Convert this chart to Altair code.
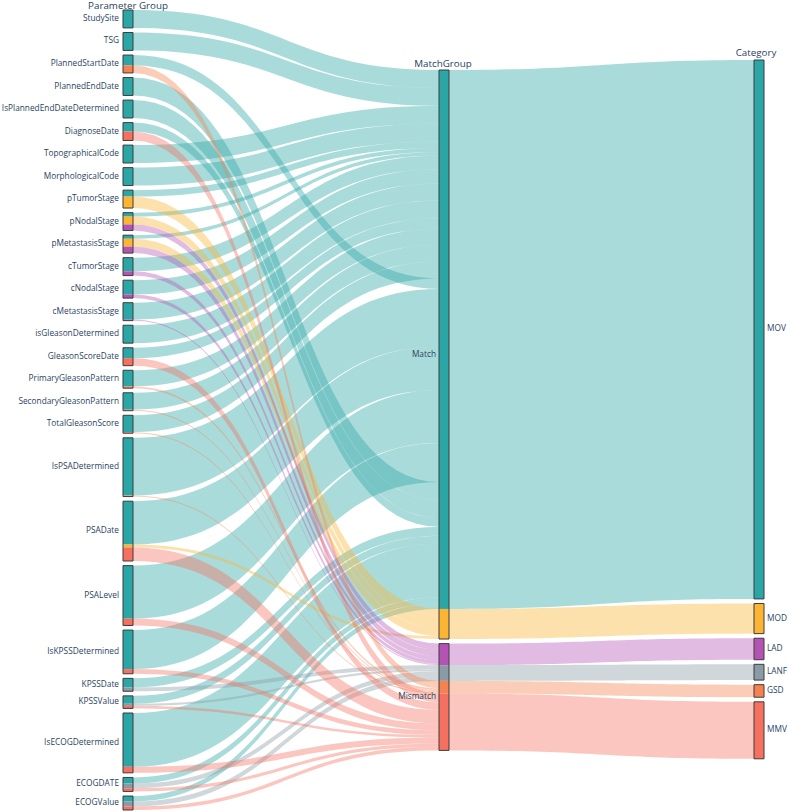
import altair as alt
import pandas as pd
import numpy as np

# ---------------- data ----------------
params = [
    "StudySite", "TSG", "PlannedStartDate", "PlannedEndDate", "IsPlannedEndDateDetermined",
    "DiagnoseDate", "TopographicalCode", "MorphologicalCode", "pTumorStage", "pNodalStage",
    "pMetastasisStage", "cTumorStage", "cNodalStage", "cMetastasisStage", "isGleasonDetermined",
    "GleasonScoreDate", "PrimaryGleasonPattern", "SecondaryGleasonPattern", "TotalGleasonScore",
    "IsPSADetermined", "PSADate", "PSALevel", "IsKPSSDetermined", "KPSSDate", "KPSSValue",
    "IsECOGDetermined", "ECOGDATE", "ECOGValue",
]
mov = [50, 50, 29, 50, 50, 25, 50, 50, 18, 11, 10, 38, 40, 47, 50, 29, 45, 47, 47, 161, 121, 148, 109, 25, 22, 150, 17, 15]
mod = [0, 0, 0, 0, 0, 0, 0, 0, 32, 22, 22, 0, 0, 0, 0, 0, 0, 0, 0, 0, 8, 0, 0, 0, 0, 0, 0, 0]
lad = [0, 0, 0, 0, 0, 0, 0, 0, 0, 17, 18, 12, 10, 3, 0, 0, 0, 0, 0, 0, 0, 0, 0, 0, 0, 0, 0, 0]
lanf = [0, 0, 0, 0, 0, 0, 0, 0, 0, 0, 0, 0, 0, 0, 0, 0, 0, 0, 0, 0, 0, 0, 0, 11, 6, 0, 13, 14]
gsd = [0, 0, 21, 0, 0, 0, 0, 0, 0, 0, 0, 0, 0, 0, 0, 0, 5, 3, 3, 3, 0, 0, 0, 0, 0, 0, 0, 0]
mmv = [0, 0, 0, 0, 0, 25, 0, 0, 0, 0, 0, 0, 0, 0, 0, 21, 0, 0, 0, 0, 38, 19, 13, 0, 7, 17, 9, 10]

# order in which the MOV flows arrive at the "Match" node (top to bottom)
mov_arrival_order = [
    "StudySite", "TSG", "TopographicalCode", "MorphologicalCode",
    "pTumorStage", "pNodalStage", "pMetastasisStage", "cTumorStage",
    "cNodalStage", "cMetastasisStage", "isGleasonDetermined", "GleasonScoreDate",
    "PrimaryGleasonPattern", "SecondaryGleasonPattern", "TotalGleasonScore",
    "PlannedStartDate",
    "IsPSADetermined", "PSADate", "PSALevel", "IsKPSSDetermined",
    "PlannedEndDate", "IsPlannedEndDateDetermined", "DiagnoseDate",
    "KPSSDate", "KPSSValue", "IsECOGDetermined", "ECOGDATE", "ECOGValue",
]

categories = ["MOV", "MOD", "LAD", "LANF", "GSD", "MMV"]
cat_group = ["Match", "Match", "Mismatch", "Mismatch", "Mismatch", "Mismatch"]
groups = ["Match", "Mismatch"]
cat_colors = ["#2ba6a6", "#fbb532", "#b354b4", "#8a9ba5", "#f6834f", "#f5705f"]
column_titles = ["Parameter Group", "MatchGroup", "Category"]

# ---------------- layout (computed sankey) ----------------
W, H = 788, 812
NW = 10
LX0, MX0, RX0 = 123, 439, 754
PAD = 4.6
LTOP, LBOT = 10, 810
MTOP, RTOP = 70, 60

vals = np.array([mov, mod, lad, lanf, gsd, mmv], dtype=float).T  # params x cats
total = vals.sum()
ky = (LBOT - LTOP - (len(params) - 1) * PAD) / total

seg_rows, box_rows, link_defs, label_rows = [], [], [], []

left_pos = {}
y = LTOP
for i, p in enumerate(params):
    h = vals[i].sum() * ky
    box_rows.append(dict(bx=LX0, bx2=LX0 + NW, by=y, by2=y + h))
    label_rows.append(dict(t=p, tx=LX0 - 4, ty=y + h / 2, side="L"))
    yy = y
    for j, c in enumerate(categories):
        w = vals[i, j] * ky
        if w > 0:
            seg_rows.append(dict(bx=LX0, bx2=LX0 + NW, by=yy, by2=yy + w, cat=c))
            left_pos[(i, j)] = yy
        yy += w
    y += h + PAD

cat_tot = vals.sum(axis=0)
mid_top = {}
y = MTOP
for g in groups:
    js = [j for j in range(len(categories)) if cat_group[j] == g]
    h = cat_tot[js].sum() * ky
    mid_top[g] = y
    box_rows.append(dict(bx=MX0, bx2=MX0 + NW, by=y, by2=y + h))
    label_rows.append(dict(t=g, tx=MX0 - 3, ty=y + h / 2, side="L"))
    yy = y
    for j in js:
        w = cat_tot[j] * ky
        seg_rows.append(dict(bx=MX0, bx2=MX0 + NW, by=yy, by2=yy + w, cat=categories[j]))
        ya = yy
        if categories[j] == "MOV":
            src_order = [params.index(p) for p in mov_arrival_order]
        else:
            src_order = range(len(params))
        for i in src_order:
            if vals[i, j] > 0:
                lw = vals[i, j] * ky
                link_defs.append((LX0 + NW, MX0, left_pos[(i, j)], ya, lw, categories[j]))
                ya += lw
        yy += w
    y += h + PAD

y = RTOP
yy_mid = {g: mid_top[g] for g in groups}
for j, c in enumerate(categories):
    h = cat_tot[j] * ky
    box_rows.append(dict(bx=RX0, bx2=RX0 + NW, by=y, by2=y + h))
    seg_rows.append(dict(bx=RX0, bx2=RX0 + NW, by=y, by2=y + h, cat=c))
    label_rows.append(dict(t=c, tx=RX0 + NW + 3, ty=y + h / 2, side="R"))
    g = cat_group[j]
    link_defs.append((MX0 + NW, RX0, yy_mid[g], y, h, c))
    yy_mid[g] += h
    y += h + PAD

ts = np.linspace(0, 1, 40)
link_rows = []
for k, (xa, xb, ya, yb, w, c) in enumerate(link_defs):
    fx = 1.5 * ts * (1 - ts) + ts ** 3
    fy = 3 * ts ** 2 - 2 * ts ** 3
    for a, b in zip(fx, fy):
        yt = ya + (yb - ya) * b
        link_rows.append(dict(lid=f"L{k:03d}", cat=c, lx=float(xa + (xb - xa) * a),
                              ly=float(yt), ly2=float(yt + w)))

links = pd.DataFrame(link_rows)
segs = pd.DataFrame(seg_rows)
boxes = pd.DataFrame(box_rows)
labels = pd.DataFrame(label_rows)
titles = pd.DataFrame([
    dict(t=column_titles[0], tx=LX0 + NW / 2, ty=6),
    dict(t=column_titles[1], tx=MX0 + NW / 2 - 1, ty=64),
    dict(t=column_titles[2], tx=RX0 + 2, ty=53),
])

xs = alt.Scale(domain=[0, W], nice=False, zero=False)
ys = alt.Scale(domain=[0, H], nice=False, zero=False, reverse=True)
cs = alt.Scale(domain=categories, range=cat_colors)

link_layer = alt.Chart(links).mark_area(opacity=0.4).encode(
    x=alt.X("lx:Q", scale=xs, axis=None),
    y=alt.Y("ly:Q", scale=ys, axis=None, stack=None),
    y2="ly2:Q",
    color=alt.Color("cat:N", scale=cs, legend=None),
    detail="lid:N",
)
seg_layer = alt.Chart(segs).mark_rect().encode(
    x=alt.X("bx:Q", scale=xs, axis=None), x2="bx2:Q",
    y=alt.Y("by:Q", scale=ys, axis=None), y2="by2:Q",
    color=alt.Color("cat:N", scale=cs, legend=None),
)
box_layer = alt.Chart(boxes).mark_rect(fillOpacity=0, stroke="#3d3d3d", strokeWidth=1).encode(
    x=alt.X("bx:Q", scale=xs, axis=None), x2="bx2:Q",
    y=alt.Y("by:Q", scale=ys, axis=None), y2="by2:Q",
)
text_kw = dict(font="Open Sans", fontSize=8.3, color="#2a3f5f", baseline="middle")
left_text = alt.Chart(labels[labels.side == "L"]).mark_text(align="right", **text_kw).encode(
    x=alt.X("tx:Q", scale=xs, axis=None), y=alt.Y("ty:Q", scale=ys, axis=None), text="t:N")
right_text = alt.Chart(labels[labels.side == "R"]).mark_text(align="left", **text_kw).encode(
    x=alt.X("tx:Q", scale=xs, axis=None), y=alt.Y("ty:Q", scale=ys, axis=None), text="t:N")
title_text = alt.Chart(titles).mark_text(align="center", font="Open Sans", fontSize=9.8,
                                         color="#2a3f5f", baseline="middle").encode(
    x=alt.X("tx:Q", scale=xs, axis=None), y=alt.Y("ty:Q", scale=ys, axis=None), text="t:N")

chart = alt.layer(link_layer, seg_layer, box_layer, left_text, right_text, title_text).properties(
    width=W, height=H, autosize="none", padding=0,
).configure_view(stroke=None)

chart.save("out.html", embed_options={"renderer": "svg", "actions": False})
